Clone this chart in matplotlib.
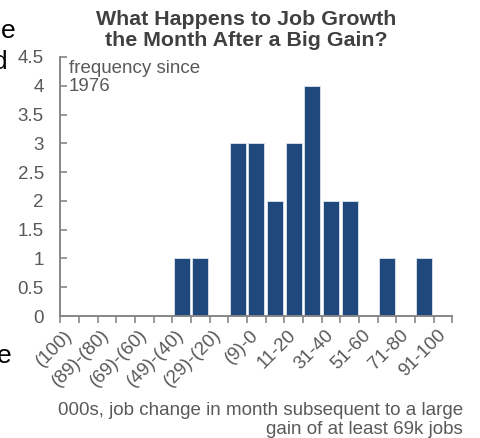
import matplotlib
matplotlib.use("Agg")
import matplotlib.pyplot as plt
import numpy as np

# ----------------------
# Data
# ----------------------
categories = ["(100)", "(99)-(90)", "(89)-(80)", "(79)-(70)", "(69)-(60)",
              "(59)-(50)", "(49)-(40)", "(39)-(30)", "(29)-(20)", "(19)-(10)",
              "(9)-0", "1-10", "11-20", "21-30", "31-40", "41-50", "51-60",
              "61-70", "71-80", "81-90", "91-100"]
frequency = [0, 0, 0, 0, 0, 0, 1, 1, 0, 3, 3, 2, 3, 4, 2, 2, 0, 1, 0, 1, 0]
y_ticks = [0, 0.5, 1, 1.5, 2, 2.5, 3, 3.5, 4, 4.5]

BAR = "#1f497d"
GREY = "#595959"
SPINE = "#868686"

plt.rcParams['font.family'] = ['Liberation Sans', 'DejaVu Sans']

fig = plt.figure(figsize=(4.8, 4.38), dpi=100)
ax = fig.add_axes([0.126, 0.2785, 0.816, 0.5915])

x = np.arange(len(categories))
ax.bar(x, frequency, width=0.86, color=BAR, edgecolor="#dfe5ee", linewidth=0.6)

ax.set_xlim(-0.5, len(categories) - 0.5)
ax.set_ylim(0, 4.5)
ax.set_yticks(y_ticks)
ax.set_yticklabels([f"{v:g}" for v in y_ticks])

# labels on every other category, ticks at category edges
ax.set_xticks(x[::2])
ax.set_xticklabels(categories[::2], rotation=45, ha="right", va="center",
                   rotation_mode="anchor")
ax.set_xticks(np.arange(-0.5, len(categories)), minor=True)
ax.tick_params(axis="x", which="major", length=0, pad=12, labelsize=13.5,
               labelcolor=GREY)
ax.tick_params(axis="x", which="minor", length=5, width=1.2, color=SPINE,
               direction="out")
ax.tick_params(axis="y", length=5, width=1.2, color=SPINE, direction="in",
               pad=12, labelsize=13.5, labelcolor=GREY)

for side in ["top", "right"]:
    ax.spines[side].set_visible(False)
for side in ["left", "bottom"]:
    ax.spines[side].set_color(SPINE)
    ax.spines[side].set_linewidth(1.4)

ax.text(0.022, 0.99, "frequency since\n1976", transform=ax.transAxes,
        ha="left", va="top", fontsize=13.5, color=GREY, linespacing=1.1)

fig.text(0.5125, 0.978, "What Happens to Job Growth\nthe Month After a Big Gain?",
         ha="center", va="top", fontsize=15.4, fontweight="bold",
         color="#404040", linespacing=1.15)

fig.text(0.965, 0.083, "000s, job change in month subsequent to a large\n"
         "gain of at least 69k jobs", ha="right", va="top", fontsize=13.5,
         color=GREY, linespacing=1.15)

# clipped fragments of neighbouring page text
fig.text(15 / 480, 1 - 31 / 438, "e", ha="right", va="center", fontsize=19,
         color="black")
fig.text(8 / 480, 1 - 62 / 438, "d", ha="right", va="center", fontsize=19,
         color="black")
fig.text(11 / 480, 1 - 356 / 438, "e", ha="right", va="center", fontsize=19,
         color="black")

fig.savefig("out.png", dpi=100)
